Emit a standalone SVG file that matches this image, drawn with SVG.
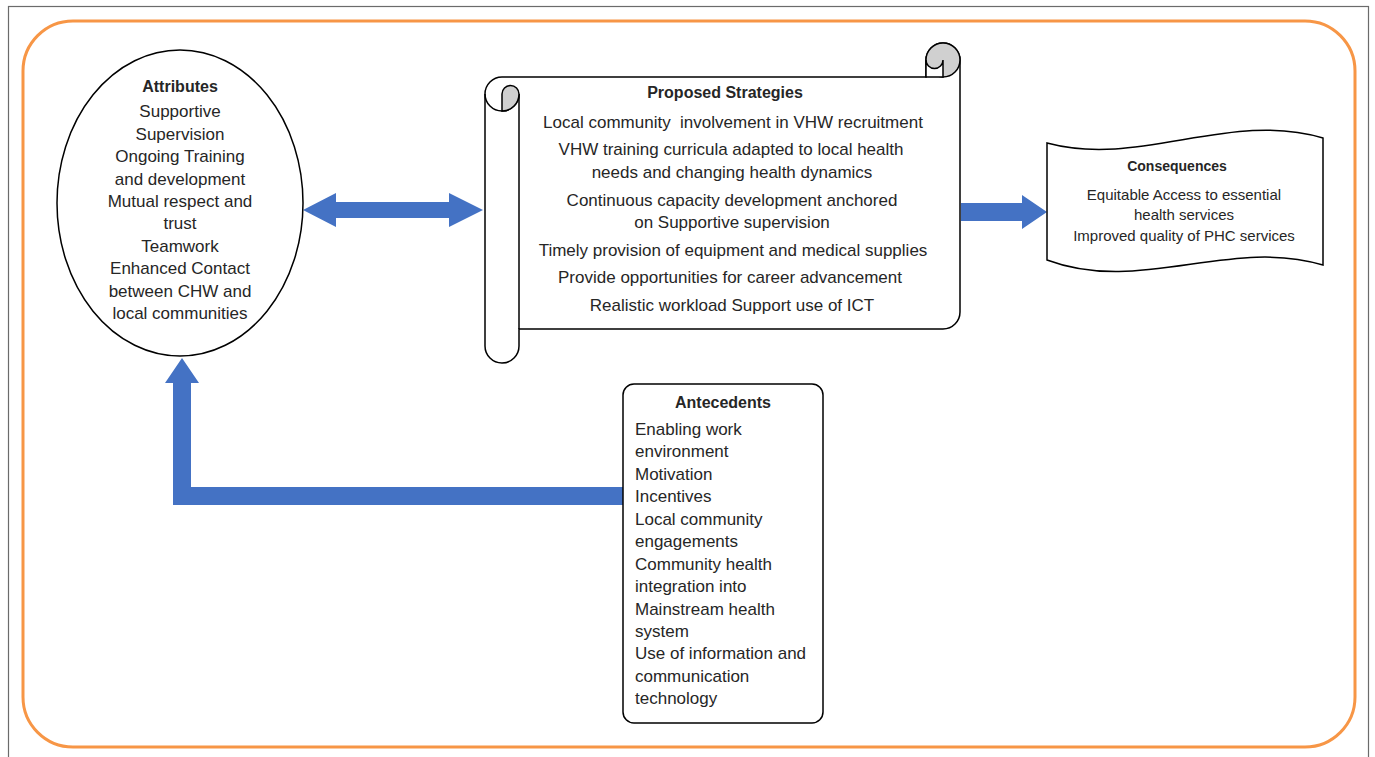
<svg xmlns="http://www.w3.org/2000/svg" width="1375" height="757" viewBox="0 0 1375 757">
<style>
  .t{font-family:"Liberation Sans",Arial,sans-serif;font-size:17px;fill:#262626}
  .h{font-family:"Liberation Sans",Arial,sans-serif;font-size:16px;font-weight:bold;fill:#262626}
  .s{font-family:"Liberation Sans",Arial,sans-serif;font-size:15px;fill:#262626}
  .hs{font-family:"Liberation Sans",Arial,sans-serif;font-size:14px;font-weight:bold;fill:#262626}
  .ln{fill:#fff;stroke:#000;stroke-width:1.5}
  .gr{fill:#D0D0D0;stroke:#000;stroke-width:1.5}
  .arr{fill:#4472C4}
</style>
<rect x="0" y="0" width="1375" height="757" fill="#fff"/>
<g id="frame">
  <rect x="8.5" y="6.5" width="1360" height="790" fill="none" stroke="#6b6b6b" stroke-width="1.2"/>
  <rect x="23" y="21" width="1332" height="726" rx="50" ry="50" fill="none" stroke="#F79646" stroke-width="3"/>
</g>
<g id="connectors">
  <polygon class="arr" points="303,210 336,193 336,202 449,202 449,193 483,210 449,227 449,218 336,218 336,227"/>
  <polygon class="arr" points="961,203 1022,203 1022,195 1047,212 1022,229 1022,221 961,221"/>
  <polygon class="arr" points="623,487 191,487 191,383 199,383 182,358 165,383 173,383 173,505 623,505"/>
</g>
<g id="node-attributes">
  <ellipse class="ln" cx="180" cy="203" rx="123" ry="153"/>
  <g text-anchor="middle">
    <text class="h" x="180" y="92">Attributes</text>
    <text class="t" x="180" y="117">Supportive</text>
    <text class="t" x="180" y="140">Supervision</text>
    <text class="t" x="180" y="162">Ongoing Training</text>
    <text class="t" x="180" y="185">and development</text>
    <text class="t" x="180" y="207">Mutual respect and</text>
    <text class="t" x="180" y="229">trust</text>
    <text class="t" x="180" y="252">Teamwork</text>
    <text class="t" x="180" y="274">Enhanced Contact</text>
    <text class="t" x="180" y="297">between CHW and</text>
    <text class="t" x="180" y="319">local communities</text>
  </g>
</g>
<g id="node-strategies">
  <path class="ln" d="M485,94 A17,17 0 0 1 502,77 L926,77 L926,60 A17,17 0 0 1 960,60 L960,312 A17,17 0 0 1 943,329 L519,329 L519,346 A17,17 0 0 1 485,346 Z"/>
  <path fill="none" stroke="#000" stroke-width="1.5" d="M519,94 L519,329"/>
  <path fill="none" stroke="#000" stroke-width="1.5" d="M485,94 A17,17 0 0 0 502,111 A17,17 0 0 0 519,94"/>
  <path class="gr" d="M502,111 L502,94 A8.5,8.5 0 0 1 519,94 A17,17 0 0 1 502,111 Z"/>
  <circle class="gr" cx="943" cy="60" r="17"/>
  <path class="ln" d="M926,60 A8.5,8.5 0 0 0 943,60 L943,77 L926,77 Z"/>
  <g text-anchor="middle">
    <text class="h" x="725" y="98">Proposed Strategies</text>
    <text class="t" x="733" y="128" xml:space="preserve">Local community  involvement in VHW recruitment</text>
    <text class="t" x="731" y="155">VHW training curricula adapted to local health</text>
    <text class="t" x="732" y="178">needs and changing health dynamics</text>
    <text class="t" x="732" y="206">Continuous capacity development anchored</text>
    <text class="t" x="732" y="228">on Supportive supervision</text>
    <text class="t" x="733" y="256">Timely provision of equipment and medical supplies</text>
    <text class="t" x="730" y="283">Provide opportunities for career advancement</text>
    <text class="t" x="732" y="311">Realistic workload Support use of ICT</text>
  </g>
</g>
<g id="node-consequences">
  <path class="ln" d="M1047,143 C1140,168 1230,110 1323,138 L1323,265 C1230,237 1140,295 1047,260 Z"/>
  <g text-anchor="middle">
    <text class="hs" x="1177" y="171">Consequences</text>
    <text class="s" x="1184" y="200">Equitable Access to essential</text>
    <text class="s" x="1184" y="220">health services</text>
    <text class="s" x="1184" y="241">Improved quality of PHC services</text>
  </g>
</g>
<g id="node-antecedents">
  <rect class="ln" x="623" y="384" width="200" height="339" rx="11" ry="11"/>
  <text class="h" x="723" y="408" text-anchor="middle">Antecedents</text>
  <text class="t" x="635" y="435">Enabling work</text>
  <text class="t" x="635" y="457">environment</text>
  <text class="t" x="635" y="480">Motivation</text>
  <text class="t" x="635" y="502">Incentives</text>
  <text class="t" x="635" y="525">Local community</text>
  <text class="t" x="635" y="547">engagements</text>
  <text class="t" x="635" y="570">Community health</text>
  <text class="t" x="635" y="592">integration into</text>
  <text class="t" x="635" y="615">Mainstream health</text>
  <text class="t" x="635" y="637">system</text>
  <text class="t" x="635" y="659">Use of information and</text>
  <text class="t" x="635" y="682">communication</text>
  <text class="t" x="635" y="704">technology</text>
</g>
</svg>
